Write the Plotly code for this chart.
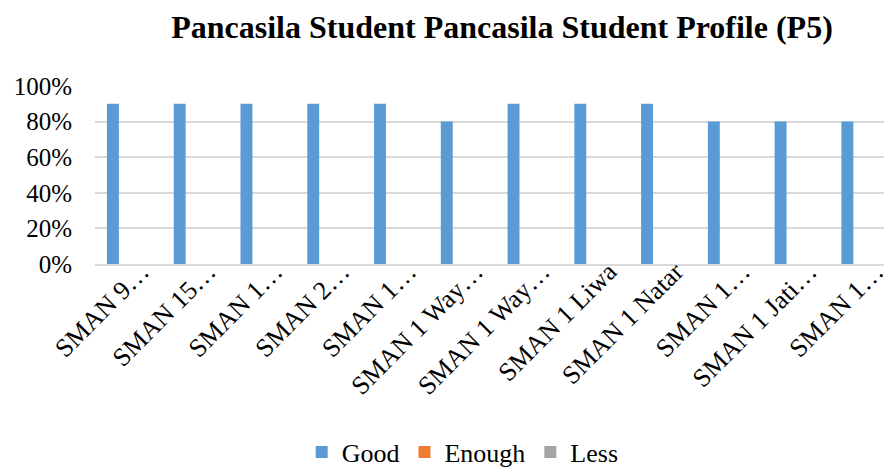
import plotly.graph_objects as go

labels = ["SMAN 9…", "SMAN 15…", "SMAN 1…", "SMAN 2…", "SMAN 1…", "SMAN 1 Way…",
          "SMAN 1 Way…", "SMAN 1 Liwa", "SMAN 1 Natar", "SMAN 1…", "SMAN 1 Jati…", "SMAN 1…"]
good = [0.9, 0.9, 0.9, 0.9, 0.9, 0.8, 0.9, 0.9, 0.9, 0.8, 0.8, 0.8]
enough = [0, 0, 0, 0, 0, 0, 0, 0, 0, 0, 0, 0]
less = [0, 0, 0, 0, 0, 0, 0, 0, 0, 0, 0, 0]
series_names = ["Good", "Enough", "Less"]
colors = ["#5b9bd5", "#ed7d31", "#a5a5a5"]

x = list(range(len(labels)))
label_offset = 0.25
fig = go.Figure()
for name, vals, c in zip(series_names, [good, enough, less], colors):
    fig.add_trace(go.Bar(x=x, y=vals, name=name, marker=dict(color=c, line=dict(width=0))))

font_family = "Liberation Serif, Times New Roman, serif"
fig.update_layout(
    width=889, height=468,
    margin=dict(l=95, r=0, t=86, b=204),
    paper_bgcolor="white", plot_bgcolor="white",
    barmode="group", bargap=0.464, bargroupgap=0,
    title=dict(text="<b>Pancasila Student Pancasila Student Profile (P5)</b>",
               x=502 / 889, xanchor="center", y=1 - 27 / 468, yanchor="middle",
               font=dict(family=font_family, size=32, color="black")),
    font=dict(family=font_family, color="black"),
    legend=dict(orientation="h", x=0.466, xanchor="center", y=1 - 452 / 468, yanchor="middle",
                yref="container", font=dict(size=26, family=font_family), traceorder="normal",
                itemwidth=30),
    showlegend=True,
)
fig.update_xaxes(
    range=[-0.447, 11.37], tickmode="array", tickvals=[v + label_offset for v in x], ticktext=labels,
    tickangle=-45, tickfont=dict(size=26, family=font_family),
    ticklabelstandoff=-20, ticklabeloverflow="allow",
    showline=True, linecolor="#d9d9d9", linewidth=2, showgrid=False, ticks="",
)
fig.update_yaxes(
    range=[0, 1], tickvals=[0, 0.2, 0.4, 0.6, 0.8, 1.0], tickformat=".0%",
    tickfont=dict(size=25, family=font_family), showgrid=True, gridcolor="#d9d9d9",
    gridwidth=1.5, zeroline=False, ticks="", ticklen=0, ticklabelstandoff=22,
)
fig.write_html("out.html")
